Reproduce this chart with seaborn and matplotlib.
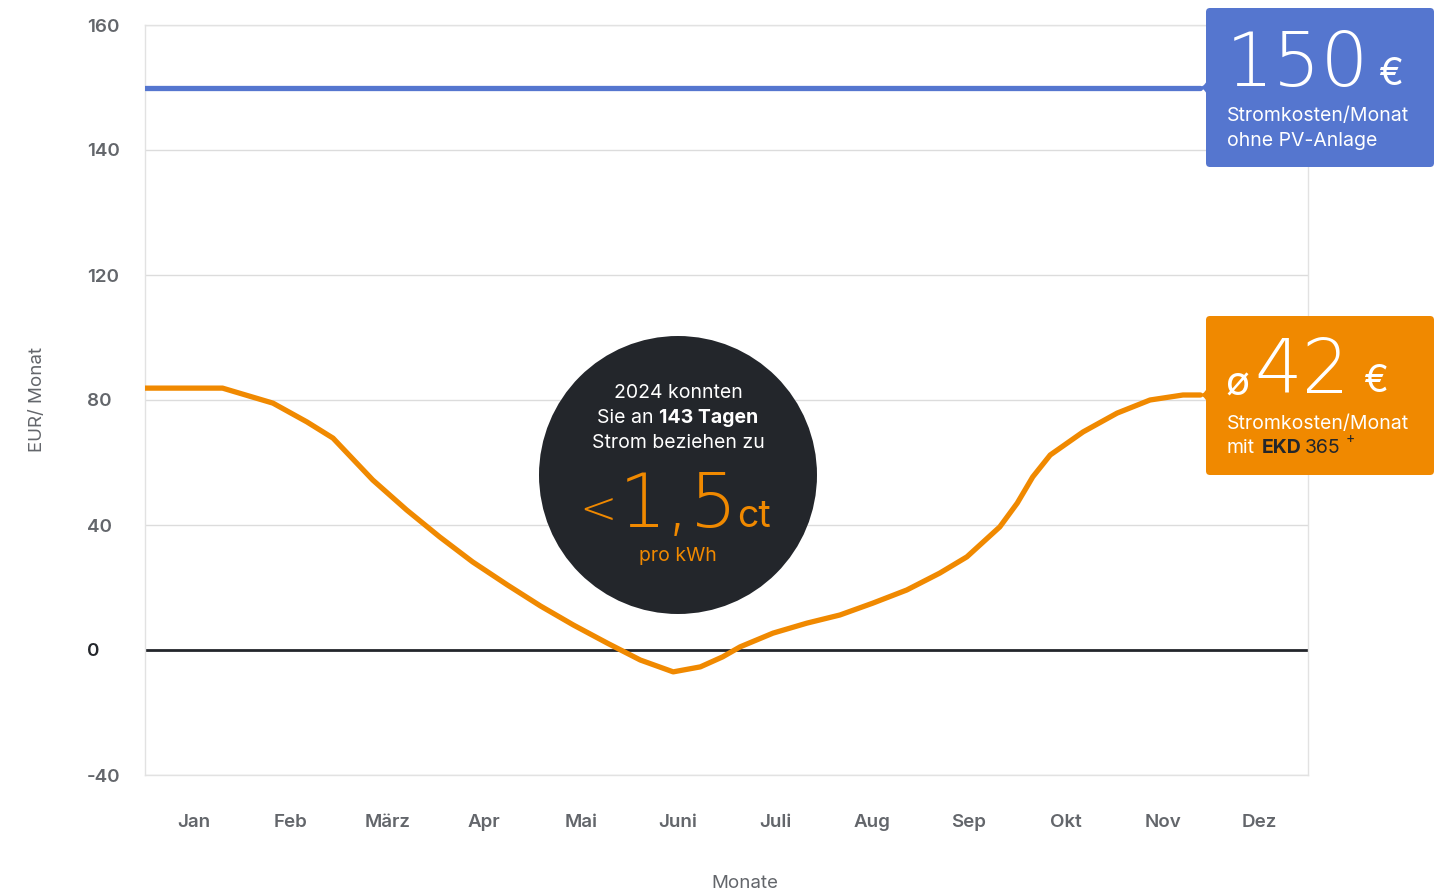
import numpy as np
import matplotlib
matplotlib.use("Agg")
import matplotlib.pyplot as plt
import seaborn as sns
from matplotlib.patches import FancyBboxPatch, Circle, PathPatch
from matplotlib.path import Path
from matplotlib.transforms import IdentityTransform

# Data
monate = ["Jan", "Feb", "März", "Apr", "Mai", "Juni", "Juli", "Aug", "Sep", "Okt", "Nov", "Dez"]
y_ticks = [-40, 0, 40, 80, 120, 140, 160]
y_tick_labels = ["-40", "0", "40", "80", "120", "140", "160"]

# monthly costs with PV + EKD365 (x = month position, 0 = Jan)
mit_ekd_pos = [-0.5, 0.3, 0.82, 1.17, 1.44, 1.85, 2.2, 2.54, 2.88, 3.24, 3.58, 3.92,
               4.27, 4.61, 4.95, 5.23, 5.46, 5.64, 5.98, 6.33, 6.67, 7.01, 7.36,
               7.7, 7.98, 8.32, 8.5, 8.66, 8.84, 9.18, 9.53, 9.87, 10.21, 10.39]
mit_ekd_eur = [83.8, 83.8, 79.0, 73.0, 67.8, 54.4, 44.8, 36.2, 28.2, 20.8, 14.1, 8.0,
               2.2, -3.2, -7.0, -5.4, -2.2, 1.0, 5.4, 8.6, 11.2, 15.0, 19.2,
               24.6, 29.8, 39.4, 47.0, 55.4, 62.4, 69.8, 75.8, 80.0, 81.6, 81.6]

# monthly costs without PV
ohne_pv_pos = [-0.5, 10.39]
ohne_pv_eur = [150, 150]

BLUE = "#5576cf"
ORANGE = "#f08900"
DARK = "#23262b"
GREY = "#63666b"

W, H = 1449, 894

sns.set_theme(style="white")
plt.rcParams["font.family"] = ["Inter", "DejaVu Sans"]

fig = plt.figure(figsize=(W / 100, H / 100), dpi=100)
ax = fig.add_axes([145 / W, (H - 775) / H, 1163 / W, 750 / H])

# the value axis is not linear: every tick step has the same height
def fwd(v):
    return np.interp(v, y_ticks, np.arange(len(y_ticks)))

def inv(v):
    return np.interp(v, np.arange(len(y_ticks)), y_ticks)

ax.set_yscale("function", functions=(fwd, inv))

ax.axhline(0, color=DARK, lw=2, zorder=2)
sns.lineplot(x=ohne_pv_pos, y=ohne_pv_eur, color=BLUE, lw=3.8, estimator=None,
             sort=False, ax=ax, zorder=3)
sns.lineplot(x=mit_ekd_pos, y=mit_ekd_eur, color=ORANGE, lw=3.8, estimator=None,
             sort=False, ax=ax, zorder=3, solid_joinstyle="round")

ax.set_xlim(-0.5, 11.5)
ax.set_ylim(-40, 160)
ax.set_xticks(range(len(monate)))
ax.set_xticklabels(monate)
ax.set_yticks(y_ticks)
ax.set_yticklabels(y_tick_labels)
ax.yaxis.grid(True, color="#dcdcdc", lw=1)
ax.xaxis.grid(False)
for s in ax.spines.values():
    s.set_color("#e2e2e2")
    s.set_linewidth(1)
ax.tick_params(axis="y", length=0, pad=42, labelsize=13.5, labelcolor=GREY)
ax.tick_params(axis="x", length=0, pad=28, labelsize=13.5, labelcolor=GREY)
for lab in ax.get_yticklabels():
    lab.set_ha("left")
    lab.set_fontweight("semibold")
    if lab.get_text() == "0":
        lab.set_color(DARK)
for lab in ax.get_xticklabels():
    lab.set_fontweight("semibold")

ax.set_ylabel("EUR/ Monat", fontsize=13.5, color=GREY, va="center")
ax.yaxis.set_label_coords((38 - 145) / 1163, 0.5)
ax.set_xlabel("Monate", fontsize=13.5, color=GREY, va="center")
ax.xaxis.set_label_coords((745 - 145) / 1163, (775 - 883) / 750)

px = IdentityTransform()


def P(x, y):
    return (x, H - y)


def box(x0, y0, x1, y1, tip_y, color):
    fig.add_artist(FancyBboxPatch(P(x0, y1), x1 - x0, y1 - y0,
                                  boxstyle="round,pad=0,rounding_size=4",
                                  fc=color, ec="none", transform=px))
    verts = [P(x0 + 1, tip_y - 10), P(x0 + 1, tip_y - 2), P(x0 - 7, tip_y),
             P(x0 + 1, tip_y + 2), P(x0 + 1, tip_y + 10), P(x0 + 1, tip_y - 10)]
    codes = [Path.MOVETO, Path.CURVE3, Path.CURVE3, Path.CURVE3, Path.CURVE3, Path.CLOSEPOLY]
    fig.add_artist(PathPatch(Path(verts, codes), fc=color, ec="none", transform=px))


def txt(x, y, s, **kw):
    fig.text(*P(x, y), s, transform=px, va="baseline", **kw)


big = dict(family=["DejaVu Sans"], fontweight=200)

# box: without PV
box(1206, 8, 1434, 167, 87.5, BLUE)
txt(1226, 86, "150", fontsize=54, color="white", **big)
txt(1378, 85, "€", fontsize=27, color="white")
txt(1227, 121, "Stromkosten/Monat", fontsize=14, color="white")
txt(1227, 146, "ohne PV-Anlage", fontsize=14, color="white")

# box: with EKD365
box(1206, 316, 1434, 475, 395, ORANGE)
txt(1225, 396, "ø", fontsize=29, color="white")
txt(1254, 393, "42", fontsize=54, color="white", **big)
txt(1363, 392, "€", fontsize=27, color="white")
txt(1227, 429, "Stromkosten/Monat", fontsize=14, color="white")
txt(1227, 453, "mit", fontsize=14, color="white")
txt(1262, 453, "EKD", fontsize=14, color=DARK, fontweight="bold")
txt(1305, 453, "365", fontsize=14, color=DARK)
txt(1346, 443, "+", fontsize=10, color=DARK)

# circle callout
fig.add_artist(Circle(P(678, 475), 139, fc=DARK, ec="none", transform=px))
txt(678, 398, "2024 konnten", fontsize=14, color="white", ha="center")
txt(659, 423, "Sie an ", fontsize=14, color="white", ha="right")
txt(659, 423, "143 Tagen", fontsize=14, color="white", ha="left", fontweight="bold")
txt(678, 448, "Strom beziehen zu", fontsize=14, color="white", ha="center")
txt(579, 524, "<", fontsize=32, color=ORANGE, **big)
txt(619, 527, "1,5", fontsize=54, color=ORANGE, **big)
txt(737, 527, "ct", fontsize=27, color=ORANGE)
txt(678, 561, "pro kWh", fontsize=14, color=ORANGE, ha="center")

fig.savefig("out.png", dpi=100)
